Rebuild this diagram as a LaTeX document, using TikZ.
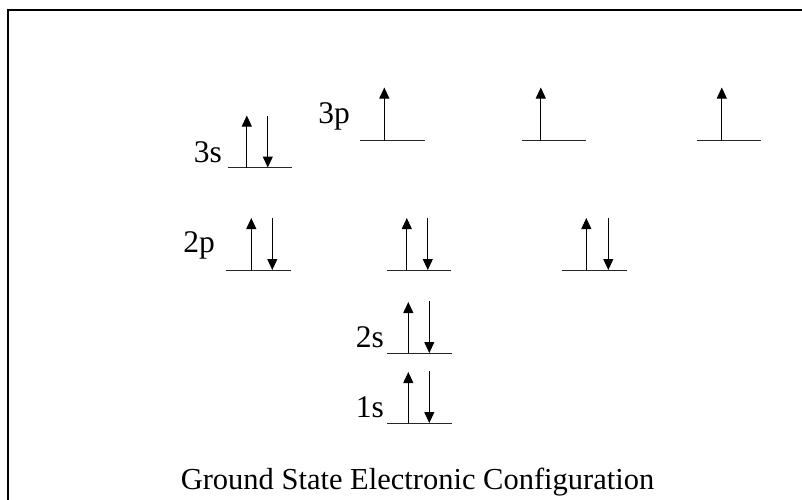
\documentclass[tikz,border=0pt]{standalone}
\usepackage{fontspec}
\setmainfont{Liberation Serif}
\usetikzlibrary{arrows.meta,positioning}
\tikzset{
  orblevel/.style={rectangle, draw=none, minimum width=64pt, minimum height=0pt, inner sep=0pt},
  orbline/.style={line width=1pt, draw=black!85},
  spinup/.style={-{Triangle[length=11pt,width=10pt]}, line width=1pt},
  spindown/.style={-{Triangle[length=11pt,width=10pt]}, line width=1pt},
  orblabel/.style={font=\fontsize{31.5}{36}\selectfont, inner sep=0pt, anchor=base east},
  titlelabel/.style={font=\fontsize{30.5}{36}\selectfont, inner sep=0pt, anchor=base}
}
\begin{document}
\begin{tikzpicture}[x=1pt,y=-1pt]
\useasboundingbox (0,0) rectangle (802,499);
\draw[line width=2pt] (7.5,505) -- (7.5,9.5) -- (808,9.5);

% 1s and 2s
\node[orblevel] (l1s) at (419.5,423) {};
\node[orblabel] (t1s) at (384,417) {1s};
\draw[orbline] (l1s.west) -- (l1s.east);
\draw[spinup] ([xshift=21pt]l1s.west) -- ([xshift=21pt,yshift=51pt]l1s.west);
\draw[spindown] ([xshift=42pt,yshift=52pt]l1s.west) -- ([xshift=42pt]l1s.west);

\node[orblevel] (l2s) at (419.5,353) {};
\node[orblabel] (t2s) at (384,347) {2s};
\draw[orbline] (l2s.west) -- (l2s.east);
\draw[spinup] ([xshift=21pt]l2s.west) -- ([xshift=21pt,yshift=51pt]l2s.west);
\draw[spindown] ([xshift=42pt,yshift=52pt]l2s.west) -- ([xshift=42pt]l2s.west);

% 2p
\node[orblevel] (l2pa) at (258.5,270) {};
\node[orblevel] (l2pb) at (419,270) {};
\node[orblevel] (l2pc) at (594.5,270) {};
\node[orblabel] (t2p) at (215,252) {2p};
\draw[orbline] (l2pa.west) -- (l2pa.east);
\draw[orbline] (l2pb.west) -- (l2pb.east);
\draw[orbline] (l2pc.west) -- (l2pc.east);
\draw[spinup] ([xshift=25pt]l2pa.west) -- ([xshift=25pt,yshift=52pt]l2pa.west);
\draw[spindown] ([xshift=46pt,yshift=52pt]l2pa.west) -- ([xshift=46pt]l2pa.west);
\draw[spinup] ([xshift=20pt]l2pb.west) -- ([xshift=20pt,yshift=52pt]l2pb.west);
\draw[spindown] ([xshift=41pt,yshift=52pt]l2pb.west) -- ([xshift=41pt]l2pb.west);
\draw[spinup] ([xshift=24pt]l2pc.west) -- ([xshift=24pt,yshift=52pt]l2pc.west);
\draw[spindown] ([xshift=46pt,yshift=52pt]l2pc.west) -- ([xshift=46pt]l2pc.west);

% 3s
\node[orblevel] (l3s) at (260,167.5) {};
\node[orblabel] (t3s) at (222,162) {3s};
\draw[orbline] (l3s.west) -- (l3s.east);
\draw[spinup] ([xshift=19pt]l3s.west) -- ([xshift=19pt,yshift=52pt]l3s.west);
\draw[spindown] ([xshift=40pt,yshift=52pt]l3s.west) -- ([xshift=40pt]l3s.west);

% 3p
\node[orblevel] (l3pa) at (392.5,140.5) {};
\node[orblevel] (l3pb) at (554,140.5) {};
\node[orblevel] (l3pc) at (729,140.5) {};
\node[orblabel] (t3p) at (350,123) {3p};
\draw[orbline] (l3pa.west) -- (l3pa.east);
\draw[orbline] (l3pb.west) -- (l3pb.east);
\draw[orbline] (l3pc.west) -- (l3pc.east);
\draw[spinup] ([xshift=24pt]l3pa.west) -- ([xshift=24pt,yshift=53pt]l3pa.west);
\draw[spinup] ([xshift=19pt]l3pb.west) -- ([xshift=19pt,yshift=53pt]l3pb.west);
\draw[spinup] ([xshift=25pt]l3pc.west) -- ([xshift=25pt,yshift=53pt]l3pc.west);

\node[titlelabel] (title) at (417.5,489) {Ground State Electronic Configuration};
\end{tikzpicture}
\end{document}
